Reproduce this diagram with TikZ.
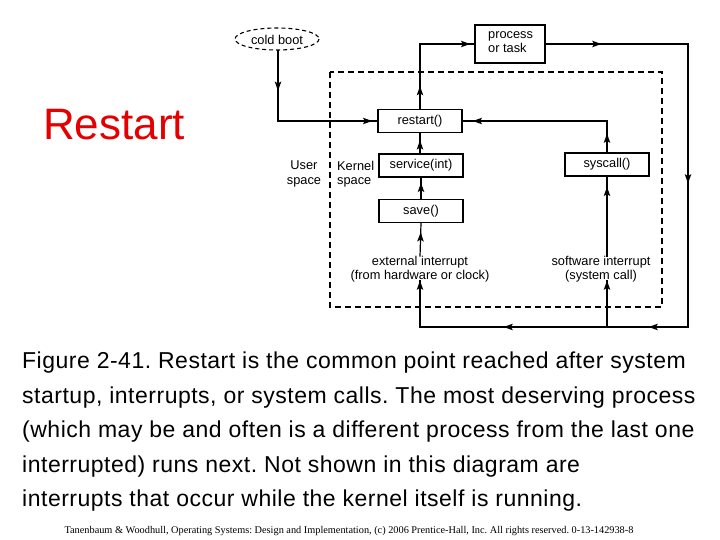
\documentclass[tikz,border=0pt]{standalone}
\usepackage{fontspec}
\setmainfont{Liberation Sans}
\newfontfamily\footfont{Liberation Serif}
\newfontfamily\capfont[LetterSpace=2.2]{Liberation Sans}
\usetikzlibrary{decorations.markings}
\definecolor{titlered}{RGB}{228,0,0}
\tikzset{
  tipat/.style={postaction={decorate,decoration={markings,mark=at position #1 with {\fill (0.8pt,0pt) -- (-8.5pt,3.3pt) -- (-6.5pt,0pt) -- (-8.5pt,-3.3pt) -- cycle;}}}},
  wire/.style={line width=1.2pt},
  box/.style={draw,line width=1.2pt,minimum width=84pt,minimum height=23pt,inner sep=0pt,font=\fontsize{12.8}{14.5}\selectfont},
  lbl/.style={font=\fontsize{12.8}{14.5}\selectfont,inner sep=0pt},
  capline/.style={anchor=base west,inner sep=0pt,font=\capfont\fontsize{23}{25}\selectfont},
}
\frenchspacing
\begin{document}
\begin{tikzpicture}[x=1pt,y=-1pt]
\useasboundingbox (0,0) rectangle (720,540);

% title
\node[anchor=base west,inner sep=0pt,text=titlered,font=\fontsize{44}{50}\selectfont] (title) at (43,140) {Restart};

% dashed kernel region
\draw[line width=1.2pt,dash pattern=on 6pt off 4pt] (330,72) rectangle (662,307);

% nodes
\draw[line width=1.1pt,dash pattern=on 4pt off 3pt] (277,39) ellipse [x radius=42,y radius=11];
\node[lbl] (cold) at (277,40) {cold boot};
\node[draw,line width=1.2pt,minimum width=70pt,minimum height=38pt,inner sep=0pt] (proc) at (510,44) {};
\node[lbl,align=left,anchor=west] (proctxt) at (488,42) {process\\or task};
\node[box] (restart) at (420,121) {restart()};
\node[box] (service) at (421,165.5) {service(int)};
\node[box] (save) at (421,211) {save()};
\node[box] (syscall) at (607,164.5) {syscall()};
\node[lbl,align=center] (user) at (304,174) {User\\space};
\node[lbl,align=left,anchor=west] (kernel) at (337,174) {Kernel\\space};
\node[lbl,align=center] (ext) at (420,269) {external interrupt\\(from hardware or clock)};
\node[lbl,align=center] (soft) at (601,269) {software interrupt\\(system call)};

\coordinate (cbBot) at (278,50);
\coordinate (cbCorner) at (278,121);
\coordinate (rsTop) at (420,44);
\coordinate (prR) at (688,44);
\coordinate (prRB) at (688,327);
\coordinate (extB) at (420,327);
\coordinate (softB) at (607,327);
\coordinate (scTop) at (607,121);

% connectors
\draw[wire,tipat=40pt,tipat=-6pt] (cbBot) -- (cbCorner) -- (restart.west);
\draw[wire,tipat=22pt,tipat=-5pt] (restart.north) -- (rsTop) -- (proc.west);
\draw[wire,tipat=55pt,tipat=281pt,tipat=464pt,tipat=609pt,tipat=-1pt]
  (proc.east) -- (prR) -- (prRB) -- (extB) -- ([yshift=2pt]ext.south);
\draw[wire,tipat=-1pt] (softB) -- ([yshift=2pt]soft.south -| softB);
\draw[wire,tipat=-10pt] ([yshift=-1pt]ext.north) -- (save.south);
\draw[wire,tipat=-6pt] (save.north) -- (service.south);
\draw[wire,tipat=-8pt] (service.north -| restart.south) -- (restart.south);
\draw[wire,tipat=18pt,tipat=-11pt] (syscall.north) -- (scTop) -- (restart.east);
\draw[wire,tipat=-11pt] ([yshift=-1pt]soft.north -| syscall.south) -- (syscall.south);

% caption
\node[capline] (c1) at (22,368) {Figure 2-41. Restart is the common point reached after system};
\node[capline] (c2) at (22,403) {startup, interrupts, or system calls. The most deserving process};
\node[capline] (c3) at (22,437.5) {(which may be and often is a different process from the last one};
\node[capline] (c4) at (22,472) {interrupted) runs next. Not shown in this diagram are};
\node[capline] (c5) at (22,506.5) {interrupts that occur while the kernel itself is running.};

% footer
\node[anchor=base,inner sep=0pt,font=\footfont\fontsize{10.3}{12}\selectfont] (foot) at (349,533) {Tanenbaum \& Woodhull, Operating Systems: Design and Implementation, (c) 2006 Prentice-Hall, Inc. All rights reserved. 0-13-142938-8};
\end{tikzpicture}
\end{document}
